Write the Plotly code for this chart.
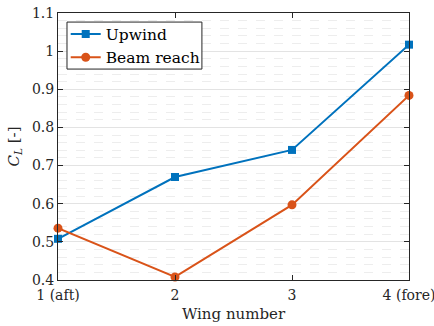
import plotly.graph_objects as go

wings = [1, 2, 3, 4]
wing_labels = ["1 (aft)", "2", "3", "4 (fore)"]
upwind = [0.508, 0.670, 0.741, 1.017]
beam_reach = [0.536, 0.408, 0.597, 0.884]

font_family = "DejaVu Serif, serif"
axis_color = "#262626"

fig = go.Figure()
fig.add_trace(go.Scatter(
    x=wings, y=upwind, name="Upwind", mode="lines+markers",
    line=dict(color="#0072BD", width=2),
    marker=dict(symbol="square", size=8, color="#0072BD"),
    cliponaxis=False,
))
fig.add_trace(go.Scatter(
    x=wings, y=beam_reach, name="Beam reach", mode="lines+markers",
    line=dict(color="#D95319", width=2),
    marker=dict(symbol="circle", size=9, color="#D95319"),
    cliponaxis=False,
))

# legend frame drawn as a shape so the entries can sit tighter inside it
fig.add_shape(
    type="rect", xref="paper", yref="paper",
    x0=0.0256, x1=0.410, y0=0.790, y1=0.966,
    line=dict(color=axis_color, width=1), fillcolor="white", layer="above",
)

fig.update_layout(
    width=434, height=326,
    margin=dict(l=58, r=25, t=13, b=46),
    paper_bgcolor="white", plot_bgcolor="white",
    font=dict(family=font_family, size=14, color=axis_color),
    showlegend=True,
    legend=dict(
        x=0.022, y=0.983, xanchor="left", yanchor="top",
        borderwidth=0, bgcolor="rgba(0,0,0,0)",
        font=dict(size=15.5, family=font_family, color="black"),
        tracegroupgap=0, itemwidth=30,
    ),
)

fig.update_xaxes(
    range=[1, 4], tickvals=wings, ticktext=wing_labels,
    showgrid=False, zeroline=False, automargin=False,
    ticklabeloverflow="allow",
    showline=True, linecolor=axis_color, linewidth=1, mirror="ticks",
    ticks="inside", ticklen=5, tickcolor=axis_color,
    ticklabelstandoff=2,
    tickfont=dict(size=14, family=font_family),
    title=dict(text="Wing number", font=dict(size=15, family=font_family), standoff=6),
)
fig.update_yaxes(
    range=[0.4, 1.1], dtick=0.1, tickformat="~g",
    showgrid=True, gridcolor="#e3e3e3", gridwidth=1,
    minor=dict(dtick=0.02, showgrid=True, gridcolor="#ededed", griddash="dash", gridwidth=1),
    zeroline=False, automargin=False,
    ticklabeloverflow="allow",
    showline=True, linecolor=axis_color, linewidth=1, mirror="ticks",
    ticks="inside", ticklen=5, tickcolor=axis_color,
    tickfont=dict(size=14, family=font_family),
    title=dict(text="<i>C</i><sub><i>L</i></sub> [-]", font=dict(size=15, family=font_family), standoff=8),
)

fig.write_html("out.html")
